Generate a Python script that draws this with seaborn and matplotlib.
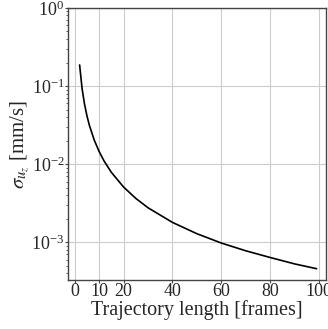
import matplotlib
matplotlib.use("Agg")
import matplotlib.pyplot as plt
import seaborn as sns
import pandas as pd

traj_length = [2, 3, 4, 5, 6, 8, 10, 12, 15, 20, 25, 30, 40, 50, 60, 70, 80, 90, 99]
sigma_uz = [0.186, 0.093, 0.0588, 0.0416, 0.0314, 0.0203, 0.0145, 0.0110, 0.00786,
            0.00510, 0.00365, 0.00277, 0.00180, 0.00129, 0.00098, 0.00078, 0.00064,
            0.00053, 0.00046]
x_ticks = [0, 10, 20, 40, 60, 80, 100]

sns.set_style("whitegrid")
plt.rcParams['font.family'] = ['Liberation Serif', 'DejaVu Serif']
plt.rcParams['mathtext.fontset'] = 'stix'

df = pd.DataFrame({"L": traj_length, "s": sigma_uz})

fig = plt.figure(figsize=(3.28, 3.29), dpi=100)
ax = fig.add_axes([0.207, 0.149, 0.788, 0.827])
sns.lineplot(data=df, x="L", y="s", ax=ax, color="black", linewidth=1.2)
ax.set_yscale("log")
ax.set_ylim(3.3e-4, 1.0)
ax.set_xlim(-2.8, 103)
ax.set_xticks(x_ticks)
ax.set_xlabel("Trajectory length [frames]", fontsize=14.5, labelpad=0)
ax.set_ylabel(r"$\sigma_{u_z}$ [mm/s]", fontsize=15, labelpad=0)
ax.tick_params(axis="both", which="major", labelsize=13, length=2, width=0.8,
               direction="out", color="#444444", pad=0.5, bottom=True, left=True)
ax.tick_params(axis="y", which="minor", length=1.5, width=0.6, direction="out",
               color="#444444", left=True)
ax.grid(True, which="major", color="#cccccc", linewidth=0.8)
ax.grid(False, which="minor")
for sp in ax.spines.values():
    sp.set_color("#444444")
    sp.set_linewidth(1.0)

fig.savefig("out.png", dpi=100)
